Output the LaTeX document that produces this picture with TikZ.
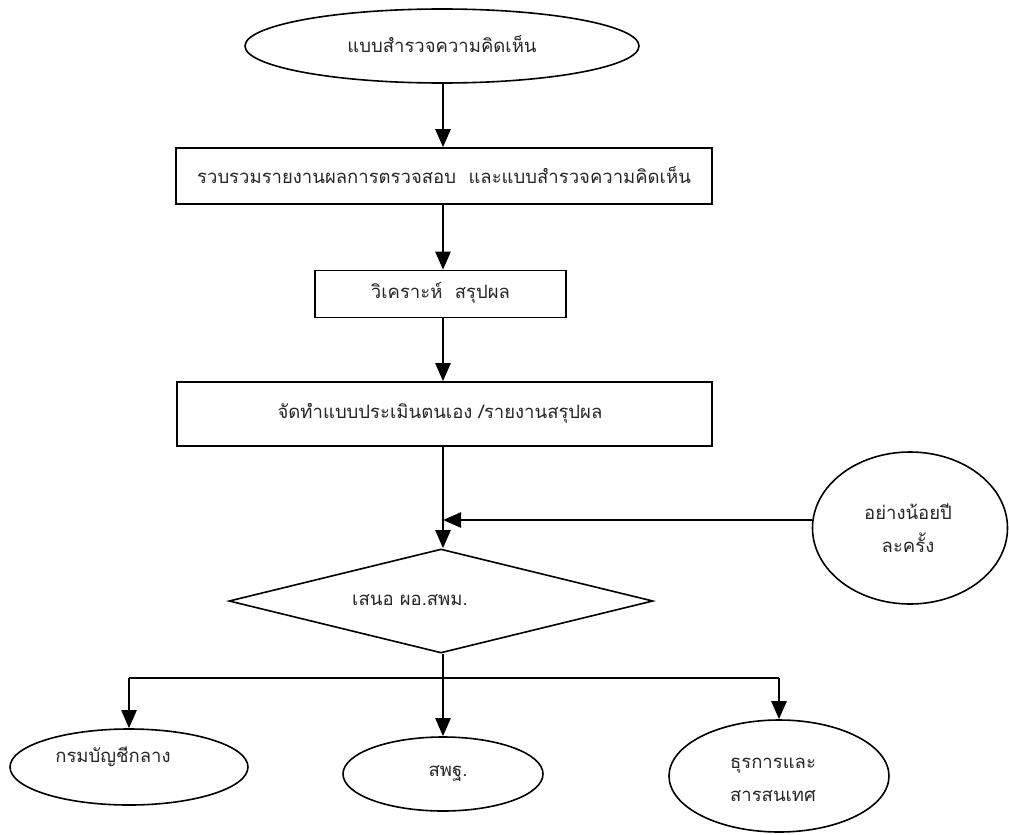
\documentclass[tikz,border=0pt]{standalone}
\usepackage{fontspec}
\newfontfamily\thaifont[Script=Thai]{Loma}
\usetikzlibrary{shapes.geometric,arrows.meta}
\tikzset{
  shp/.style={draw=black, line width=1.6pt, inner sep=0pt, font=\thaifont\fontsize{18.5}{33}\selectfont, text=black!85},
  ell/.style={shp, ellipse},
  boxnode/.style={shp, rectangle},
  dia/.style={shp, diamond},
  txt/.style={inner sep=0pt, font=\thaifont\fontsize{18.5}{33}\selectfont, text=black!85, align=center},
  arr/.style={line width=2.4pt, -{Triangle[length=18pt,width=15pt]}},
  ln/.style={line width=1.8pt}
}
\begin{document}
\begin{tikzpicture}[x=1pt,y=-1pt]
\useasboundingbox (0,0) rectangle (1009,835);
\node[ell, minimum width=394pt, minimum height=74pt] (e0) at (442,46) {};
\node[txt] (t0) at (442,44) {แบบสำรวจความคิดเห็น};
\node[boxnode, minimum width=536pt, minimum height=56pt] (b1) at (444,176) {};
\node[txt] (t1) at (444,175) {รวบรวมรายงานผลการตรวจสอบ\ \ และแบบสำรวจความคิดเห็น};
\node[boxnode, minimum width=251pt, minimum height=47pt] (b2) at (440.5,294) {};
\node[txt] (t2) at (440.5,293) {วิเคราะห์\ \ สรุปผล};
\node[boxnode, minimum width=535pt, minimum height=64pt] (b3) at (444.5,414) {};
\node[txt] (t3) at (440,413) {จัดทำแบบประเมินตนเอง /รายงานสรุปผล};
\node[dia, minimum width=424pt, minimum height=104pt] (d) at (441,601) {};
\node[txt] (td) at (410,600) {เสนอ ผอ.สพม.};
\node[ell, minimum width=195pt, minimum height=152pt] (re) at (910,528) {};
\node[txt] (tre) at (908,528) {อย่างน้อยปี\\ละครั้ง};
\node[ell, minimum width=238pt, minimum height=76pt] (o1) at (129,767) {};
\node[txt] (to1) at (113,757) {กรมบัญชีกลาง};
\node[ell, minimum width=200pt, minimum height=74pt] (o2) at (443,774) {};
\node[txt] (to2) at (448,773) {สพฐ.};
\node[ell, minimum width=220pt, minimum height=112pt] (o3) at (779,776) {};
\node[txt] (to3) at (773,780) {ธุรการและ\\สารสนเทศ};
\coordinate (j) at (443,520);
\coordinate (bus) at (443,678);
\draw[arr] (e0.south -| j) -- (b1.north -| j);
\draw[arr] (b1.south -| j) -- (b2.north -| j);
\draw[arr] (b2.south -| j) -- (b3.north -| j);
\draw[arr] (b3.south -| j) -- (d.north -| j);
\draw[arr] (j -| re.west) -- (j);
\draw[ln] (d.south -| bus) -- (bus);
\draw[arr] (bus) -- (o2.north -| bus);
\draw[ln] (bus) -- (bus -| o1.north);
\draw[arr] (bus -| o1.north) -- (o1.north);
\draw[ln] (bus) -- (bus -| o3.north);
\draw[arr] (bus -| o3.north) -- (o3.north);
\end{tikzpicture}
\end{document}
